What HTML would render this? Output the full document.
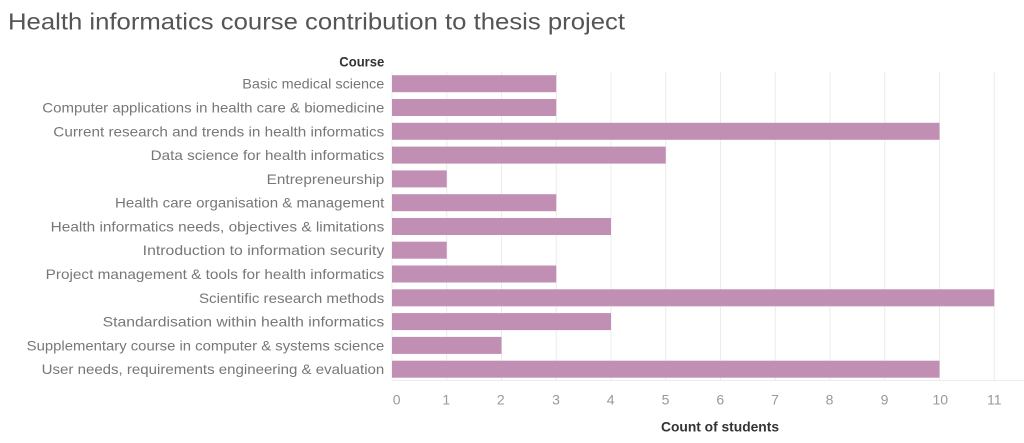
<!DOCTYPE html>
<html>
<head>
<meta charset="utf-8">
<style>
html,body{margin:0;padding:0;background:#fff;}
svg{display:block;}
text{font-family:"Liberation Sans",sans-serif;}
</style>
</head>
<body>
<svg width="1024" height="443" viewBox="0 0 1024 443" xmlns="http://www.w3.org/2000/svg">
<rect x="0" y="0" width="1024" height="443" fill="#fff"/>
<text x="8" y="29.3" font-size="23" fill="#555" textLength="617" lengthAdjust="spacingAndGlyphs">Health informatics course contribution to thesis project</text>
<text x="384.3" y="66.7" font-size="14" font-weight="bold" fill="#333" text-anchor="end" textLength="45" lengthAdjust="spacingAndGlyphs">Course</text>

<g stroke="#ececec" stroke-width="1">
<line x1="392" y1="72" x2="392" y2="380"/>
<line x1="446.75" y1="72" x2="446.75" y2="380"/>
<line x1="501.5" y1="72" x2="501.5" y2="380"/>
<line x1="556.25" y1="72" x2="556.25" y2="380"/>
<line x1="611" y1="72" x2="611" y2="380"/>
<line x1="665.75" y1="72" x2="665.75" y2="380"/>
<line x1="720.5" y1="72" x2="720.5" y2="380"/>
<line x1="775.25" y1="72" x2="775.25" y2="380"/>
<line x1="830" y1="72" x2="830" y2="380"/>
<line x1="884.75" y1="72" x2="884.75" y2="380"/>
<line x1="939.5" y1="72" x2="939.5" y2="380"/>
<line x1="994.25" y1="72" x2="994.25" y2="380"/>
<line x1="392" y1="380.5" x2="1024" y2="380.5"/>
</g>

<g fill="#c18eb4">
<rect x="392" y="75.2" width="164.25" height="17"/>
<rect x="392" y="99.0" width="164.25" height="17"/>
<rect x="392" y="122.8" width="547.5" height="17"/>
<rect x="392" y="146.6" width="273.75" height="17"/>
<rect x="392" y="170.4" width="54.75" height="17"/>
<rect x="392" y="194.2" width="164.25" height="17"/>
<rect x="392" y="218.0" width="219" height="17"/>
<rect x="392" y="241.7" width="54.75" height="17"/>
<rect x="392" y="265.5" width="164.25" height="17"/>
<rect x="392" y="289.3" width="602.25" height="17"/>
<rect x="392" y="313.1" width="219" height="17"/>
<rect x="392" y="336.9" width="109.5" height="17"/>
<rect x="392" y="360.7" width="547.5" height="17"/>
</g>

<g font-size="14" fill="#777" text-anchor="end">
<text x="384.3" y="88.7" textLength="142" lengthAdjust="spacingAndGlyphs">Basic medical science</text>
<text x="384.3" y="112.5" textLength="342" lengthAdjust="spacingAndGlyphs">Computer applications in health care &amp; biomedicine</text>
<text x="384.3" y="136.3" textLength="331" lengthAdjust="spacingAndGlyphs">Current research and trends in health informatics</text>
<text x="384.3" y="160.1" textLength="233.6" lengthAdjust="spacingAndGlyphs">Data science for health informatics</text>
<text x="384.3" y="183.9" textLength="117.6" lengthAdjust="spacingAndGlyphs">Entrepreneurship</text>
<text x="384.3" y="207.7" textLength="269.3" lengthAdjust="spacingAndGlyphs">Health care organisation &amp; management</text>
<text x="384.3" y="231.5" textLength="333.6" lengthAdjust="spacingAndGlyphs">Health informatics needs, objectives &amp; limitations</text>
<text x="384.3" y="255.2" textLength="241.6" lengthAdjust="spacingAndGlyphs">Introduction to information security</text>
<text x="384.3" y="279.0" textLength="338.6" lengthAdjust="spacingAndGlyphs">Project management &amp; tools for health informatics</text>
<text x="384.3" y="302.8" textLength="185.3" lengthAdjust="spacingAndGlyphs">Scientific research methods</text>
<text x="384.3" y="326.6" textLength="281.6" lengthAdjust="spacingAndGlyphs">Standardisation within health informatics</text>
<text x="384.3" y="350.4" textLength="357.6" lengthAdjust="spacingAndGlyphs">Supplementary course in computer &amp; systems science</text>
<text x="384.3" y="374.2" textLength="342.6" lengthAdjust="spacingAndGlyphs">User needs, requirements engineering &amp; evaluation</text>
</g>

<g font-size="14" fill="#999" text-anchor="middle">
<text x="396.7" y="404.3">0</text>
<text x="446.3" y="404.3">1</text>
<text x="500.8" y="404.3">2</text>
<text x="556" y="404.3">3</text>
<text x="610.7" y="404.3">4</text>
<text x="665.5" y="404.3">5</text>
<text x="720.3" y="404.3">6</text>
<text x="775" y="404.3">7</text>
<text x="829.5" y="404.3">8</text>
<text x="884.5" y="404.3">9</text>
<text x="940.3" y="404.3">10</text>
<text x="994.3" y="404.3">11</text>
</g>

<text x="661" y="431.7" font-size="14" font-weight="bold" fill="#333" textLength="118" lengthAdjust="spacingAndGlyphs">Count of students</text>
</svg>
</body>
</html>
